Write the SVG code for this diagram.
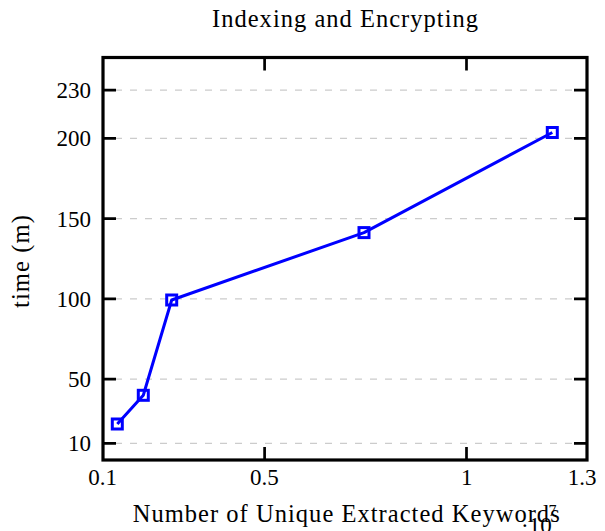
<svg xmlns="http://www.w3.org/2000/svg" width="605" height="531" viewBox="0 0 605 531">
  <style>
    text { font-family: "Liberation Serif", "Times New Roman", serif; fill: #000; }
    .lbl { font-size: 23px; }
    .big { font-size: 24.5px; }
    .ylab { text-anchor: end; }
    .xlab { text-anchor: middle; }
    .grid { stroke: #cccccc; stroke-width: 1.3; stroke-dasharray: 7 8; fill: none; }
    .tick { stroke: #000; stroke-width: 2.7; fill: none; }
    .frame { stroke: #000; stroke-width: 3.2; fill: none; }
    .series { stroke: #0000ff; stroke-width: 3; fill: none; stroke-linejoin: round; }
    .mark { stroke: #0000ff; stroke-width: 3; fill: none; }
  </style>
  <rect width="605" height="531" fill="#ffffff"/>

  <!-- title -->
  <text class="big" x="345" y="26.5" text-anchor="middle" textLength="266" lengthAdjust="spacing">Indexing and Encrypting</text>

  <!-- horizontal grid -->
  <g id="grid">
    <line class="grid" x1="115" y1="443.4" x2="575" y2="443.4"/>
    <line class="grid" x1="115" y1="379.2" x2="575" y2="379.2"/>
    <line class="grid" x1="115" y1="298.9" x2="575" y2="298.9"/>
    <line class="grid" x1="115" y1="218.6" x2="575" y2="218.6"/>
    <line class="grid" x1="115" y1="138.3" x2="575" y2="138.3"/>
    <line class="grid" x1="115" y1="90.1" x2="575" y2="90.1"/>
  </g>

  <!-- axis ticks -->
  <g id="ticks">
    <path class="tick" d="M103 443.4h13M103 379.2h13M103 298.9h13M103 218.6h13M103 138.3h13M103 90.1h13"/>
    <path class="tick" d="M587 443.4h-13M587 379.2h-13M587 298.9h-13M587 218.6h-13M587 138.3h-13M587 90.1h-13"/>
    <path class="tick" d="M264.6 57.5v13M466.5 57.5v13M264.6 460v-13M466.5 460v-13"/>
  </g>

  <!-- plot frame -->
  <rect id="frame" class="frame" x="103" y="57.5" width="484" height="402.5"/>

  <!-- y tick labels -->
  <g id="yticklabels" class="lbl ylab">
    <text x="91" y="451.4">10</text>
    <text x="91" y="387.2">50</text>
    <text x="91" y="306.9">100</text>
    <text x="91" y="226.6">150</text>
    <text x="91" y="146.3">200</text>
    <text x="91" y="98.1">230</text>
  </g>

  <!-- x tick labels -->
  <g id="xticklabels" class="lbl xlab">
    <text x="102.5" y="485">0.1</text>
    <text x="264.3" y="485">0.5</text>
    <text x="466.7" y="485">1</text>
    <text x="582" y="485">1.3</text>
  </g>

  <!-- axis titles -->
  <text class="big" x="132.7" y="521.7" textLength="427" lengthAdjust="spacing">Number of Unique Extracted Keywords</text>
  <text class="lbl" x="521" y="533">·10</text>
  <text x="548.5" y="516" font-size="16">7</text>
  <text class="big" transform="translate(28.5 308) rotate(-90)" textLength="93" lengthAdjust="spacing">time (m)</text>

  <!-- data series -->
  <g id="connectors">
    <polyline class="series" points="117.3,424 143.3,395.3 171.7,300 364,232.6 552.3,132.5"/>
  </g>
  <g id="markers">
    <rect class="mark" x="112.3" y="419" width="10" height="10"/>
    <rect class="mark" x="138.3" y="390.3" width="10" height="10"/>
    <rect class="mark" x="166.7" y="295" width="10" height="10"/>
    <rect class="mark" x="359" y="227.6" width="10" height="10"/>
    <rect class="mark" x="547.3" y="127.5" width="10" height="10"/>
  </g>
</svg>
